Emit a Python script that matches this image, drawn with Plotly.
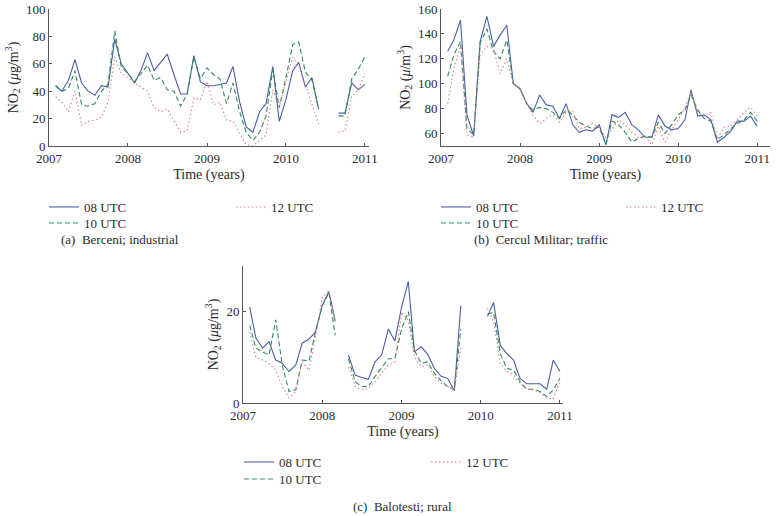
import plotly.graph_objects as go

months = ["2007-02-01","2007-03-01","2007-04-01","2007-05-01","2007-06-01","2007-07-01","2007-08-01","2007-09-01","2007-10-01","2007-11-01","2007-12-01",
          "2008-01-01","2008-02-01","2008-03-01","2008-04-01","2008-05-01","2008-06-01","2008-07-01","2008-08-01","2008-09-01","2008-10-01","2008-11-01","2008-12-01",
          "2009-01-01","2009-02-01","2009-03-01","2009-04-01","2009-05-01","2009-06-01","2009-07-01","2009-08-01","2009-09-01","2009-10-01","2009-11-01","2009-12-01",
          "2010-01-01","2010-02-01","2010-03-01","2010-04-01","2010-05-01","2010-06-01","2010-07-01","2010-08-01","2010-09-01","2010-10-01","2010-11-01","2010-12-01",
          "2011-01-01"]
N = None
# (a) Berceni; industrial
a_08 = [44,40,48,63,46,40,37,44,43,78,60,53,46,55,68,55,61,67,52,38,38,66,47,44,44,45,46,58,32,14,10,25,31,58,18,34,55,61,43,50,27,N,N,24,24,46,41,45]
a_10 = [44,40,42,55,30,29,31,40,45,84,58,53,47,53,59,48,50,41,40,29,38,65,49,57,52,49,31,46,25,10,4,10,22,56,28,50,74,76,54,48,27,N,N,22,22,49,56,65]
a_12 = [36,32,25,40,15,18,19,21,32,65,53,50,46,43,40,28,25,27,19,10,11,35,34,47,30,32,19,18,9,1,0,4,8,41,29,47,65,59,44,31,16,N,N,10,11,36,41,53]
# (b) Cercul Militar; traffic
b_08 = [126,135,151,75,58,134,154,130,139,147,100,96,84,77,91,83,82,72,84,67,61,63,62,67,51,75,73,77,67,63,57,57,75,66,63,64,71,95,74,75,71,53,57,62,70,70,74,66]
b_10 = [106,123,134,64,59,133,144,126,120,135,100,96,84,79,81,80,77,72,79,75,69,66,64,65,51,70,67,61,53,56,58,57,69,60,67,75,79,91,79,72,70,55,59,64,68,71,77,70]
b_12 = [84,112,130,59,57,123,130,128,108,120,100,96,84,75,68,72,75,69,77,78,64,65,68,65,57,64,71,67,61,57,58,51,66,53,63,71,81,93,77,74,77,56,65,66,71,77,81,74]
# (c) Balotesti; rural
c_08 = [21,14.3,12,13.4,9.4,8.7,6.9,8.3,13.1,14,15.5,21.3,24.4,18,N,10.5,6.1,5.6,5.2,9,10.5,16.2,13.6,21,26.6,11.2,12.3,10.7,7.6,5.9,5.4,2.7,21.3,N,N,N,19,22,12.6,10.8,9.4,5.4,4.2,4.2,4.2,3,9.4,6.9]
c_10 = [17,12,11.2,10.5,18.2,8.3,2.5,2.9,9.4,9.2,15.5,21.3,24.2,14.8,N,9.7,4.7,3.6,3.6,5.8,7.6,9.7,9.7,16.2,20,11.5,8.7,9,6.5,4.9,3.6,2.9,16.2,N,N,N,19.5,19.8,10.8,7.6,7.2,4.7,3,3,2.5,1.4,2.9,5.4]
c_12 = [15.5,10,9.4,8.7,7.2,3.6,1.1,2.5,9,7.2,14.4,23.1,24.5,17.7,N,7.9,3.6,2.9,3.2,4.7,6.5,8.3,9,19.9,18,10.1,7.9,8.3,5.8,4.3,3.6,2.9,12.3,N,N,N,20.8,18,8.7,6.9,6.1,4.3,2.9,2.9,2.2,1.1,0.9,4.7]

series_names = ["08 UTC", "10 UTC", "12 UTC"]
year_ticks = ["2007-01-01","2008-01-01","2009-01-01","2010-01-01","2011-01-01"]
year_labels = ["2007","2008","2009","2010","2011"]

FONT = "Liberation Serif"
TXT = "#2a2a2a"
colors = ["#4a5ea8", "#2f8a5a", "#e07f86"]
dashes = ["solid", "5px,3px", "1.5px,2.5px"]

W, H = 778, 516
def px(x): return x / W
def py(y): return 1 - y / H

# legend placements (left x of line, row centre y) per panel
leg_pos = {
    "a": [(48, 207), (48, 223), (235, 207)],
    "b": [(440, 207), (440, 223), (625, 207)],
    "c": [(243, 462), (243, 479), (430, 462)],
}

fig = go.Figure()
panels = [
    ("a", "x", "y", [a_08, a_10, a_12]),
    ("b", "x2", "y2", [b_08, b_10, b_12]),
    ("c", "x3", "y3", [c_08, c_10, c_12]),
]
leg_layout = {}
k = 0
for key, xa, ya, data in panels:
    for i, vals in enumerate(data):
        k += 1
        lname = "legend" if k == 1 else f"legend{k}"
        fig.add_trace(go.Scatter(x=months, y=vals, mode="lines", name=series_names[i],
                                 xaxis=xa, yaxis=ya, legend=lname,
                                 line=dict(color=colors[i], dash=dashes[i], width=1.1),
                                 connectgaps=False))
        lx, ly = leg_pos[key][i]
        leg_layout[lname] = dict(bgcolor="rgba(0,0,0,0)", xanchor="left", yanchor="middle",
                                 orientation="v", x=px(lx - 4), y=py(ly),
                                 font=dict(family=FONT, size=13, color=TXT),
                                 itemwidth=30, borderwidth=0)

axis_common = dict(showgrid=False, zeroline=False, showline=True, linecolor="#555", linewidth=1,
                   ticks="inside", ticklen=3, tickcolor="#555", automargin=False,
                   tickfont=dict(family=FONT, size=13, color=TXT))
xcommon = dict(axis_common, type="date", tickvals=year_ticks, ticktext=year_labels,
               title=dict(text="Time (years)", font=dict(family=FONT, size=14, color=TXT), standoff=4))
ytitle_g = dict(text="NO<sub>2</sub> (<i>μ</i>g/m<sup>3</sup>)", font=dict(family=FONT, size=14, color=TXT), standoff=4)
ytitle_b = dict(text="NO<sub>2</sub> (<i>μ</i>/m<sup>3</sup>)", font=dict(family=FONT, size=14, color=TXT), standoff=4)

fig.update_layout(
    xaxis=dict(xcommon, domain=[px(49), px(369)], range=["2007-01-01", "2011-01-20"], anchor="y"),
    yaxis=dict(axis_common, domain=[py(146), py(9)], range=[0, 100], dtick=20, anchor="x", title=ytitle_g),
    xaxis2=dict(xcommon, domain=[px(441), px(770)], range=["2007-01-01", "2011-03-01"], anchor="y2"),
    yaxis2=dict(axis_common, domain=[py(146), py(9)], range=[50, 160], tickvals=[60,80,100,120,140,160], anchor="x2", title=ytitle_b),
    xaxis3=dict(xcommon, domain=[px(243), px(563)], range=["2007-01-01", "2011-01-15"], anchor="y3"),
    yaxis3=dict(axis_common, domain=[py(403), py(266)], range=[0, 30], tickvals=[0, 20], anchor="x3", title=ytitle_g),
    width=W, height=H, margin=dict(l=0, r=0, t=0, b=0, autoexpand=False),
    paper_bgcolor="white", plot_bgcolor="white",
    font=dict(family=FONT, size=13, color=TXT),
    showlegend=True,
    **leg_layout,
)
captions = [("(a)  Berceni; industrial", 120, 240), ("(b)  Cercul Militar; traffic", 541, 240), ("(c)  Balotesti; rural", 403, 506)]
for t, x, y in captions:
    fig.add_annotation(text=t, x=px(x), y=py(y), xref="paper", yref="paper", showarrow=False,
                       font=dict(family=FONT, size=13, color=TXT), xanchor="center", yanchor="middle")

fig.write_html("out.html", config={"displayModeBar": False},
               post_script="document.body.style.margin='0';document.body.style.overflow='hidden';")
